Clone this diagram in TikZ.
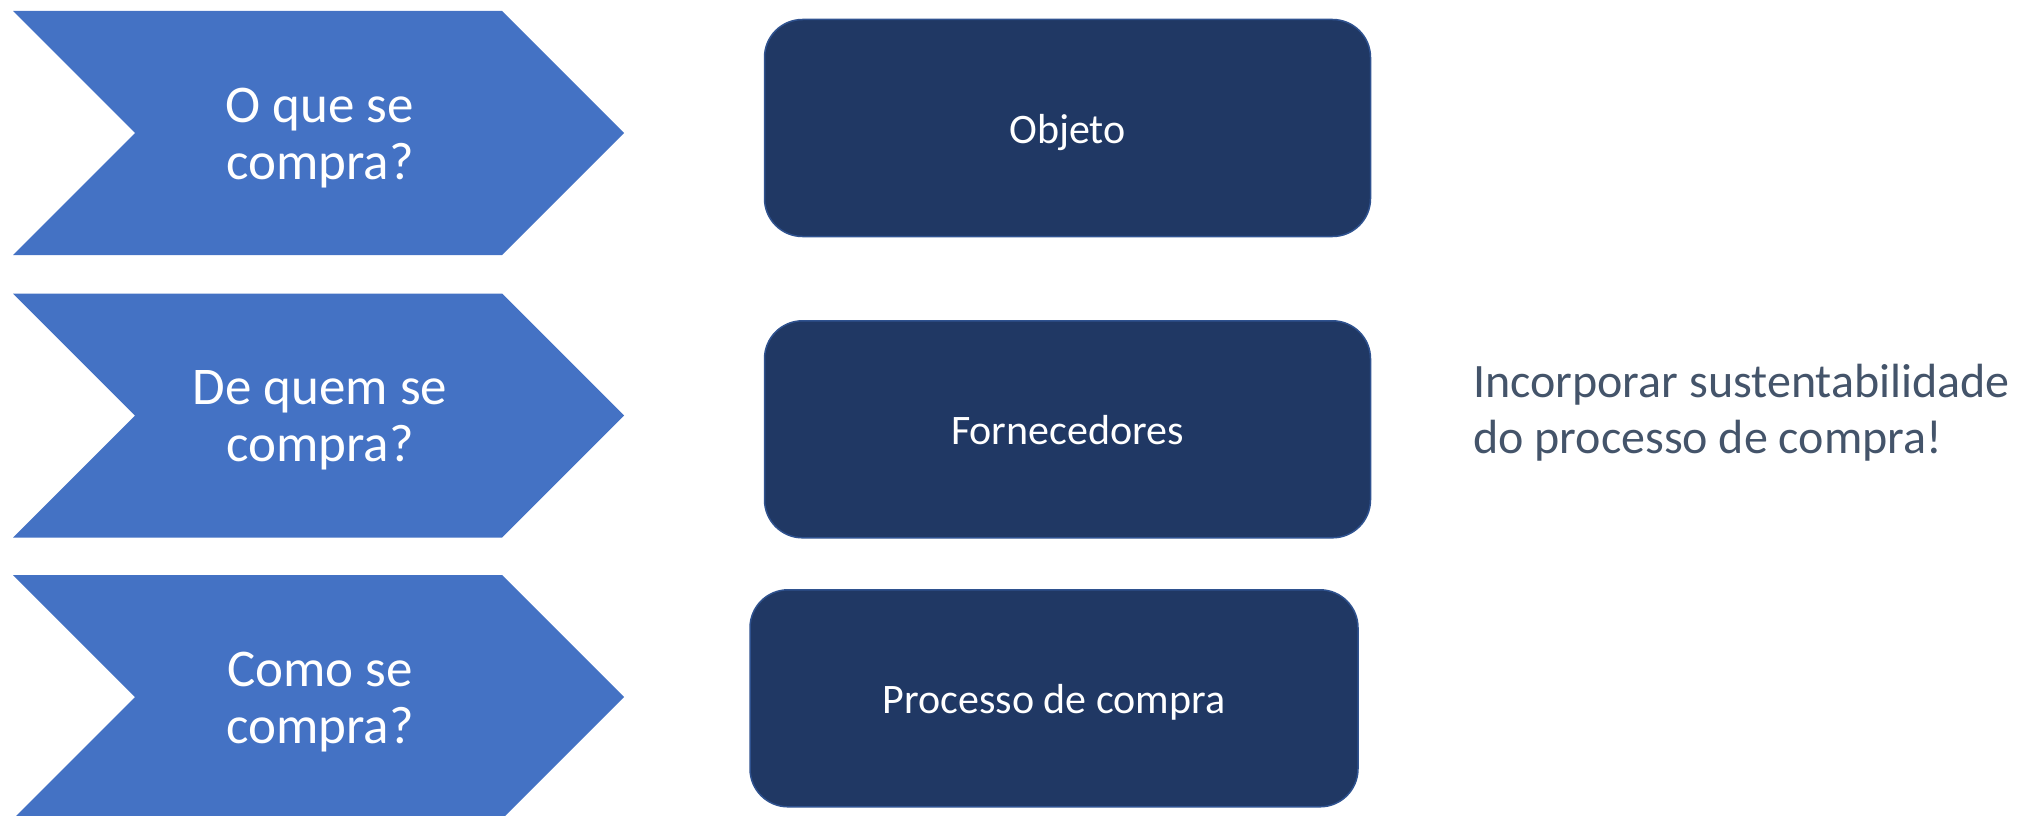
\documentclass[tikz,border=0pt]{standalone}
\usepackage{fontspec}
\setmainfont{Carlito}
\definecolor{chevblue}{HTML}{4472C4}
\definecolor{boxnavy}{HTML}{203864}
\definecolor{boxedge}{HTML}{2F528F}
\definecolor{notegray}{HTML}{44546A}
\begin{document}
\begin{tikzpicture}[x=1pt,y=-1pt,
  chev/.style={fill=chevblue, draw=none},
  chevtext/.style={text=white, font=\fontsize{53}{57}\selectfont, align=center, inner sep=0pt},
  rbox/.style={fill=boxnavy, draw=boxedge, line width=1.5pt, rounded corners=38pt,
    minimum height=217pt, text=white, font=\fontsize{42}{50}\selectfont,
    text height=34pt, text depth=4pt},
  note/.style={text=notegray, font=\fontsize{48}{56}\selectfont, align=left, inner sep=0pt}]
\useasboundingbox (0,0) rectangle (2018,816);
\begin{scope}
\clip (0,0) rectangle (2018,816);
\foreach \t in {11,293.5,575}{
  \path[chev] (13,\t) -- (502,\t) -- (624,\t+122) -- (502,\t+244) -- (13,\t+244) -- (135,\t+122) -- cycle;
}
\end{scope}
\node[chevtext] (q1) at (320,138) {O que se\\compra?};
\node[chevtext] (q2) at (320,420) {De quem se\\compra?};
\node[chevtext] (q3) at (320,702) {Como se\\compra?};
\node[rbox, minimum width=606pt] (b1) at (1067.5,128) {Objeto};
\node[rbox, minimum width=606pt] (b2) at (1067.5,429.3) {Fornecedores};
\node[rbox, minimum width=608pt] (b3) at (1054,698.3) {Processo de compra};
\node[note, anchor=base west] (n) at (1473,453) {Incorporar sustentabilidade\\do processo de compra!};
\end{tikzpicture}
\end{document}
